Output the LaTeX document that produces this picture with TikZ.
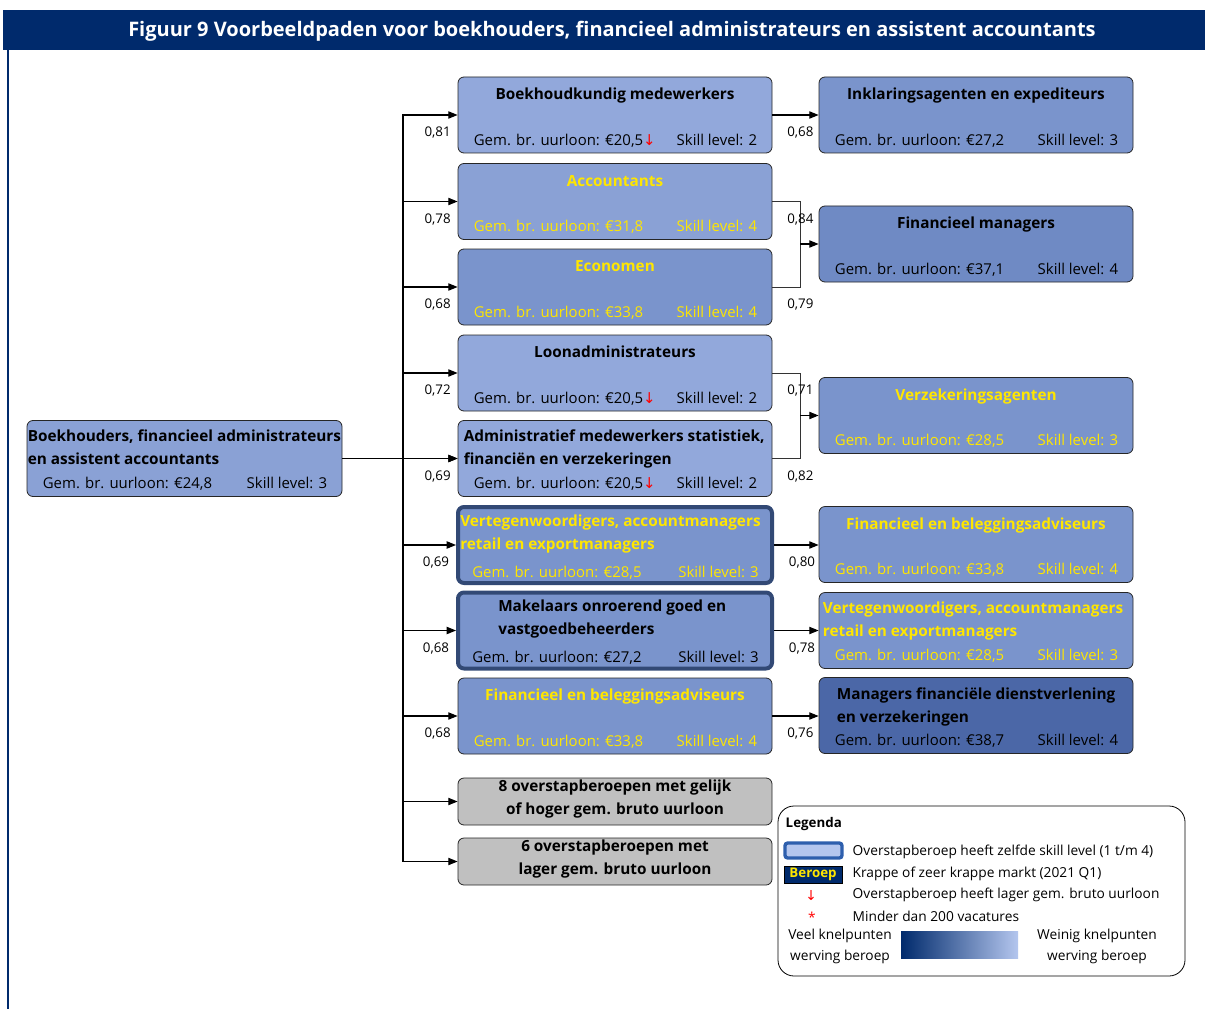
\documentclass[tikz,border=0pt]{standalone}
\usepackage{fontspec}
\setmainfont{Open Sans}
\newfontfamily\pijlfont{DejaVu Sans}
\usetikzlibrary{calc,arrows.meta}

\definecolor{kopblauw}{RGB}{0,42,108}
\definecolor{geel}{RGB}{255,230,0}
\definecolor{blauwA}{RGB}{146,168,219}
\definecolor{blauwB}{RGB}{138,161,213}
\definecolor{blauwC}{RGB}{122,148,204}
\definecolor{blauwD}{RGB}{111,138,196}
\definecolor{blauwE}{RGB}{75,103,167}
\definecolor{randblauw}{RGB}{50,73,117}
\definecolor{grijs}{RGB}{192,192,192}
\definecolor{legrand}{RGB}{46,95,173}
\definecolor{legvul}{RGB}{180,198,238}

% onderste regel van een beroep
\newcommand{\loonregel}[3]{%
  \node[inner sep=0pt, anchor=base west] at ($(#1.south west)+(16,-8)$) {Gem. br. uurloon: €#2};
  \node[inner sep=0pt, anchor=base east] at ($(#1.south east)+(-15,-8)$) {Skill level: #3};}
\newcommand{\omlaag}{{\pijlfont\color{red}↓}}

\begin{document}
\begin{tikzpicture}[x=0.75pt, y=-0.75pt, font=\fontsize{11.2}{17}\selectfont,
  beroep/.style={draw=black!85, line width=0.6pt, rounded corners=4.5pt,
    minimum width=235.5pt, minimum height=57pt, inner sep=0pt},
  kader/.style={draw=randblauw, line width=3pt},
  grijsvak/.style={beroep, fill=grijs, minimum height=35.25pt},
  titel/.style={inner sep=0pt, font=\bfseries\fontsize{11.5}{17.25}\selectfont},
  pijl/.style={-{Triangle[length=7pt,width=5.5pt]}, line width=0.8pt},
  pct/.style={font=\fontsize{10}{12}\selectfont},
  dun/.style={line width=0.6pt, draw=black!80},
  legtekst/.style={font=\fontsize{10.3}{15.75}\selectfont}]
  \useasboundingbox (0,0) rectangle (1205,1009);

  % kop
  \fill[kopblauw] (3,10) rectangle (1205,50);
  \node[text=white, font=\bfseries\fontsize{15}{18}\selectfont] (kop) at (612,31)
    {Figuur 9 Voorbeeldpaden voor boekhouders, financieel administrateurs en assistent accountants};
  \draw[kopblauw, line width=1.5pt] (8,50) -- (8,1009);

  % uitgangsberoep
  \node[beroep, fill=blauwB, minimum width=236.25pt] (links) at (184.5,458.5) {};
  \node[titel, anchor=base west, align=left] at ($(links.north west)+(1,44)$)
    {Boekhouders, financieel administrateurs\\en assistent accountants};
  \loonregel{links}{24,8}{3}

  % middelste kolom
  \node[beroep, fill=blauwA] (b1) at (615,115) {};
  \node[beroep, fill=blauwB] (b2) at (615,201.5) {};
  \node[beroep, fill=blauwC] (b3) at (615,287) {};
  \node[beroep, fill=blauwA] (b4) at (615,373) {};
  \node[beroep, fill=blauwA] (b5) at (615,458.5) {};
  \node[beroep, kader, fill=blauwC] (b6) at (615,545) {};
  \node[beroep, kader, fill=blauwC] (b7) at (615,630.5) {};
  \node[beroep, fill=blauwC] (b8) at (615,716) {};
  \node[grijsvak] (g1) at (615,801.5) {};
  \node[grijsvak] (g2) at (615,861.5) {};

  \node[titel, anchor=base] at ($(b1.north)+(0,23)$) {Boekhoudkundig medewerkers};
  \loonregel{b1}{20,5\omlaag}{2}
  \node[titel, anchor=base west, align=left] at ($(b5.north west)+(6,44)$)
    {Administratief medewerkers statistiek,\\financiën en verzekeringen};
  \loonregel{b5}{20,5\omlaag}{2}
  \node[titel, anchor=base] at ($(b4.north)+(0,23)$) {Loonadministrateurs};
  \loonregel{b4}{20,5\omlaag}{2}
  \node[titel, anchor=base west, align=left] at ($(b7.north west)+(42,44)$)
    {Makelaars onroerend goed en\\vastgoedbeheerders};
  \loonregel{b7}{27,2}{3}
  \begin{scope}[every node/.append style={text=geel}]
    \node[titel, anchor=base] at ($(b2.north)+(0,23)$) {Accountants};
    \loonregel{b2}{31,8}{4}
    \node[titel, anchor=base] at ($(b3.north)+(0,23)$) {Economen};
    \loonregel{b3}{33,8}{4}
    \node[titel, anchor=base west, align=left] at ($(b6.north west)+(4,44)$)
      {Vertegenwoordigers, accountmanagers\\retail en exportmanagers};
    \loonregel{b6}{28,5}{3}
    \node[titel, anchor=base] at ($(b8.north)+(0,23)$) {Financieel en beleggingsadviseurs};
    \loonregel{b8}{33,8}{4}
  \end{scope}
  \node[titel, anchor=base, align=center] at ($(g1.north)+(0,37)$)
    {8 overstapberoepen met gelijk\\of hoger gem. bruto uurloon};
  \node[titel, anchor=base, align=center] at ($(g2.north)+(0,37)$)
    {6 overstapberoepen met\\lager gem. bruto uurloon};

  % rechter kolom
  \node[beroep, fill=blauwC] (r1) at (976,115) {};
  \node[beroep, fill=blauwD] (r2) at (976,244) {};
  \node[beroep, fill=blauwC] (r3) at (976,415.5) {};
  \node[beroep, fill=blauwC] (r4) at (976,544.5) {};
  \node[beroep, fill=blauwC] (r5) at (976,630.5) {};
  \node[beroep, fill=blauwE] (r6) at (976,715.5) {};

  \node[titel, anchor=base] at ($(r1.north)+(0,23)$) {Inklaringsagenten en expediteurs};
  \loonregel{r1}{27,2}{3}
  \node[titel, anchor=base] at ($(r2.north)+(0,23)$) {Financieel managers};
  \loonregel{r2}{37,1}{4}
  \node[titel, anchor=base west, align=left] at ($(r6.north west)+(18,45)$)
    {Managers financiële dienstverlening\\en verzekeringen};
  \loonregel{r6}{38,7}{4}
  \begin{scope}[every node/.append style={text=geel}]
    \node[titel, anchor=base] at ($(r3.north)+(0,23)$) {Verzekeringsagenten};
    \loonregel{r3}{28,5}{3}
    \node[titel, anchor=base] at ($(r4.north)+(0,23)$) {Financieel en beleggingsadviseurs};
    \loonregel{r4}{33,8}{4}
    \node[titel, anchor=base west, align=left] at ($(r5.north west)+(4,44)$)
      {Vertegenwoordigers, accountmanagers\\retail en exportmanagers};
    \loonregel{r5}{28,5}{3}
  \end{scope}

  % verbindingen
  \coordinate (knik) at (403,458.5);
  \draw[pijl] (links.east) -- (b5.west);
  \foreach \b/\p in {b1/{0,81},b2/{0,78},b3/{0,68},b4/{0,72},b5/{0,69},b6/{0,69},b7/{0,68},b8/{0,68}}{
    \draw[pijl] (knik) |- (\b.west);
    \node[pct] at ($(\b.west)+(-20,18)$) {\p};
  }
  \foreach \b in {g1,g2}
    \draw[pijl] (knik) |- (\b.west);

  \draw[pijl] (b1.east) -- (r1.west);
  \node[pct] at ($(b1.east)+(28,18)$) {0,68};
  \coordinate (v1) at (800,244);
  \draw[dun] (b2.east) -| (v1) |- (b3.east);
  \draw[pijl] (v1) -- (r2.west);
  \node[pct] at ($(b2.east)+(28,18)$) {0,84};
  \node[pct] at ($(b3.east)+(28,18)$) {0,79};
  \coordinate (v2) at (800,415.5);
  \draw[dun] (b4.east) -| (v2) |- (b5.east);
  \draw[pijl] (v2) -- (r3.west);
  \node[pct] at ($(b4.east)+(28,18)$) {0,71};
  \node[pct] at ($(b5.east)+(28,18)$) {0,82};
  \draw[pijl] (b6.east) -- (b6.east -| r4.west);
  \node[pct] at ($(b6.east)+(28,18)$) {0,80};
  \draw[pijl] (b7.east) -- (r5.west);
  \node[pct] at ($(b7.east)+(28,18)$) {0,78};
  \draw[pijl] (b8.east) -- (b8.east -| r6.west);
  \node[pct] at ($(b8.east)+(28,18)$) {0,76};

  % legenda
  \draw[line width=0.6pt, fill=white, rounded corners=12pt] (778,806) rectangle (1185,976);
  \node[font=\bfseries\fontsize{10}{12}\selectfont, anchor=west] (leg) at (781,824) {Legenda};
  \draw[legrand, line width=2.5pt, fill=legvul, rounded corners=2pt] (785,843) rectangle (842,858);
  \node[legtekst, anchor=west] at (848,852) {Overstapberoep heeft zelfde skill level (1 t/m 4)};
  \node[fill=kopblauw, draw=black, line width=0.5pt, minimum width=43.5pt, minimum height=12.75pt,
    inner sep=0pt, text=geel, font=\bfseries\fontsize{10}{12}\selectfont] (krap) at (813,874.5) {Beroep};
  \node[legtekst, anchor=west] at (848,874) {Krappe of zeer krappe markt (2021 Q1)};
  \node[legtekst, text=red] at (811,896) {\pijlfont ↓};
  \node[legtekst, anchor=west] at (848,895) {Overstapberoep heeft lager gem. bruto uurloon};
  \node[legtekst, text=red] at (812,917) {*};
  \node[legtekst, anchor=west] at (848,916) {Minder dan 200 vacatures};
  \node[legtekst, align=center] at (840,946.5) {Veel knelpunten\\werving beroep};
  \shade[left color=kopblauw, right color=legvul] (901,931) rectangle (1018,958);
  \node[legtekst, align=center] at (1097,946.5) {Weinig knelpunten\\werving beroep};
\end{tikzpicture}
\end{document}
